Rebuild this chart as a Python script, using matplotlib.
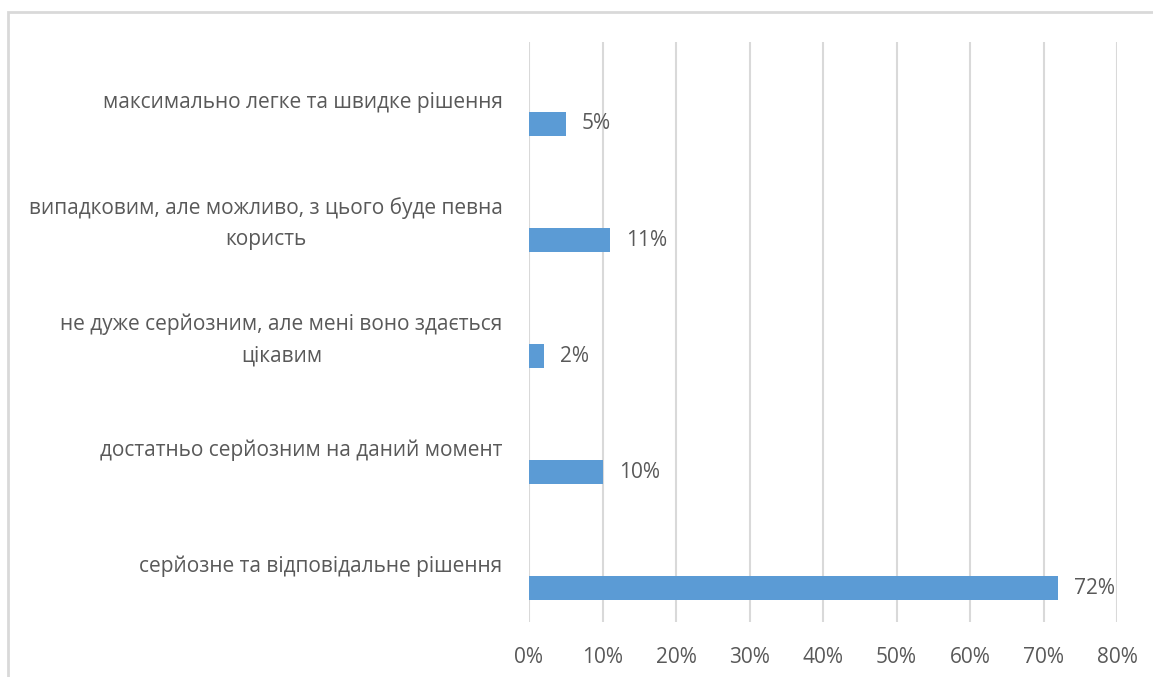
import matplotlib
matplotlib.use("Agg")
import matplotlib.pyplot as plt
from matplotlib.patches import Rectangle

plt.rcParams['font.family'] = ['Open Sans', 'DejaVu Sans']

# дані
categories = [
    "максимально легке та швидке рішення",
    "випадковим, але можливо, з цього буде певна\nкористь",
    "не дуже серйозним, але мені воно здається\nцікавим",
    "достатньо серйозним на даний момент",
    "серйозне та відповідальне рішення",
]
values = [5, 11, 2, 10, 72]
xticks = [0, 10, 20, 30, 40, 50, 60, 70, 80]

bar_color = '#5b9bd5'
text_color = '#595959'
grid_color = '#d9d9d9'
fs = 15

fig = plt.figure(figsize=(11.53, 6.77), dpi=100)
# рамка навколо діаграми
fig.patches.append(Rectangle((0.0069, -0.02), 1.1, 1.002, transform=fig.transFigure,
                             fill=False, edgecolor=grid_color, linewidth=2))

ax = fig.add_axes([0.4588, 0.0812, 0.51, 0.8568])

ypos = list(range(len(categories)))
offset = 0.207
ax.barh([y + offset for y in ypos], values, height=0.207, color=bar_color, zorder=3)

for y, v in zip(ypos, values):
    ax.text(v + 2.2, y + offset, f"{v}%", va='center', ha='left',
            fontsize=fs, color=text_color)

ax.set_xlim(0, 80)
ax.set_ylim(len(categories) - 0.5, -0.5)
ax.set_xticks(xticks)
ax.set_xticklabels([f"{t}%" for t in xticks], fontsize=fs, color=text_color)
ax.set_yticks(ypos)
ax.set_yticklabels(categories, fontsize=fs, color=text_color,
                   multialignment='center', linespacing=1.65)
ax.tick_params(axis='x', length=0, pad=18)
ax.tick_params(axis='y', length=0, pad=19)

ax.grid(axis='x', color=grid_color, linewidth=1.5, zorder=0)
for s in ax.spines.values():
    s.set_visible(False)

fig.savefig("out.png", dpi=100)
